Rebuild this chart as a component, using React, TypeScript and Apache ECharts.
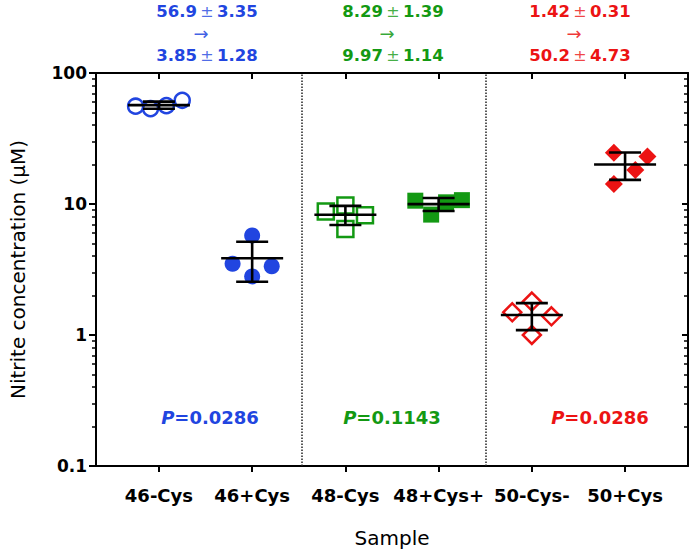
import React, { useEffect, useRef } from "react";
import * as echarts from "echarts";

// ---- data ----
const CATEGORIES = ["46-Cys", "46+Cys", "48-Cys", "48+Cys+", "50-Cys-", "50+Cys"];
const V46_MINUS = [55.8, 53.5, 56.3, 61.9];
const V46_PLUS = [5.75, 3.5, 3.35, 2.8];
const V48_MINUS = [8.75, 9.75, 8.2, 6.45];
const V48_PLUS = [10.6, 8.3, 10.3, 10.7];
const V50_MINUS = [1.49, 1.8, 1.39, 1.0];
const V50_PLUS = [24.6, 23.0, 18.2, 14.2];
// horizontal scatter (jitter) of points around each category, in category units
const J46_MINUS = [-0.25, -0.09, 0.08, 0.25];
const J46_PLUS = [0, -0.21, 0.21, 0];
const J48_MINUS = [-0.21, 0, 0.21, 0];
const J48_PLUS = [-0.25, -0.08, 0.08, 0.25];
const J50_MINUS = [-0.21, 0, 0.21, 0];
const J50_PLUS = [-0.12, 0.24, 0.11, -0.12];

const Y_MAJOR = [0.1, 1, 10, 100];
const Y_MAJOR_LABELS = ["0.1", "1", "10", "100"];
const Y_MINOR = [0.2, 0.3, 0.4, 0.5, 0.6, 0.7, 0.8, 0.9, 2, 3, 4, 5, 6, 7, 8, 9, 20, 30, 40, 50, 60, 70, 80, 90];
const X_TICKS = [1, 2, 3, 4, 5, 6];
const SEPARATORS = [2.53, 4.51];

const BEFORE_MEAN = ["56.9", "8.29", "1.42"];
const BEFORE_SD = ["3.35", "1.39", "0.31"];
const AFTER_MEAN = ["3.85", "9.97", "50.2"];
const AFTER_SD = ["1.28", "1.14", "4.73"];
const P_VALUES = ["0.0286", "0.1143", "0.0286"];

const BLUE = "#2145e0";
const GREEN = "#139913";
const RED = "#ec1313";
const GROUP_COLORS = [BLUE, GREEN, RED];
const FONT = '"DejaVu Sans", Verdana, sans-serif';

const mean = (a: number[]) => a.reduce((s, v) => s + v, 0) / a.length;
const sd = (a: number[]) => {
  const m = mean(a);
  return Math.sqrt(a.reduce((s, v) => s + (v - m) * (v - m), 0) / (a.length - 1));
};

const GROUPS = [
  { vals: V46_MINUS, jit: J46_MINUS, symbol: "circle", size: 15, filled: false, color: BLUE },
  { vals: V46_PLUS, jit: J46_PLUS, symbol: "circle", size: 16, filled: true, color: BLUE },
  { vals: V48_MINUS, jit: J48_MINUS, symbol: "rect", size: 16, filled: false, color: GREEN },
  { vals: V48_PLUS, jit: J48_PLUS, symbol: "rect", size: 16, filled: true, color: GREEN },
  { vals: V50_MINUS, jit: J50_MINUS, symbol: "diamond", size: 18, filled: false, color: RED },
  { vals: V50_PLUS, jit: J50_PLUS, symbol: "diamond", size: 18, filled: true, color: RED },
];

export default function App() {
  const ref = useRef<HTMLDivElement>(null);
  useEffect(() => {
    document.body.style.margin = "0";
    if (!ref.current) return;
    const chart = echarts.init(ref.current, null, { renderer: "svg" });

    const axisLine = { show: true, onZero: false, lineStyle: { color: "#000", width: 2 } };
    const scatterSeries = GROUPS.map((g, i) => ({
      type: "scatter",
      xAxisIndex: 0,
      yAxisIndex: 0,
      symbol: g.symbol,
      symbolSize: g.size,
      z: 3,
      itemStyle: g.filled
        ? { color: g.color, opacity: 1 }
        : { color: "transparent", borderColor: g.color, borderWidth: 2.5, opacity: 1 },
      data: g.vals.map((v, k) => [X_TICKS[i] + g.jit[k], v]),
      ...(i === 0
        ? {
            markLine: {
              silent: true,
              symbol: "none",
              label: { show: false },
              lineStyle: { color: "#222", type: "dotted", width: 1.5 },
              data: SEPARATORS.map((x) => ({ xAxis: x })),
            },
          }
        : {}),
    }));

    const errorData = GROUPS.map((g, i) => [X_TICKS[i], mean(g.vals), sd(g.vals)]);

    const graphics: any[] = [];
    const centers = [207, 393, 580];
    const pCenters = [210, 392, 600];
    GROUP_COLORS.forEach((c, i) => {
      const rich = {
        b: { fontWeight: "bold", fontSize: 16.5, fontFamily: FONT, fill: c },
        n: { fontWeight: "normal", fontSize: 16, fontFamily: FONT, fill: c, opacity: 0.8 },
      };
      graphics.push({
        type: "text",
        x: centers[i],
        y: 11,
        style: { text: `{b|${BEFORE_MEAN[i]}} {n|±} {b|${BEFORE_SD[i]}}`, rich, align: "center", verticalAlign: "middle" },
      });
      graphics.push({
        type: "text",
        x: centers[i] - 6,
        y: 33,
        style: { text: "→", fill: c, fontSize: 18, fontFamily: FONT, align: "center", verticalAlign: "middle", opacity: 0.85 },
      });
      graphics.push({
        type: "text",
        x: centers[i],
        y: 55,
        style: { text: `{b|${AFTER_MEAN[i]}} {n|±} {b|${AFTER_SD[i]}}`, rich, align: "center", verticalAlign: "middle" },
      });
      graphics.push({
        type: "text",
        x: pCenters[i],
        y: 417,
        style: {
          text: `{i|P}{b|=${P_VALUES[i]}}`,
          rich: {
            i: { fontWeight: "bold", fontStyle: "italic", fontSize: 18, fontFamily: FONT, fill: c },
            b: { fontWeight: "bold", fontSize: 18, fontFamily: FONT, fill: c },
          },
          align: "center",
          verticalAlign: "middle",
        },
      });
    });

    // minor ticks of the log axis are drawn on helper axes in log10 space
    const minorLog = Y_MINOR.map((v) => Math.log10(v));
    const helperAxis = (position: string, inside: boolean) => ({
      type: "value",
      min: -1,
      max: 2,
      position,
      axisLine: { show: false, onZero: false },
      splitLine: { show: false },
      axisTick: { show: true, inside, customValues: minorLog, length: 4, lineStyle: { color: "#000", width: 1.5 } },
      axisLabel: { show: false },
    });

    const option: any = {
      animation: false,
      backgroundColor: "#fff",
      grid: { left: 96, right: 3, top: 73, bottom: 84, containLabel: false },
      xAxis: [
        {
          type: "value",
          min: 0.325,
          max: 6.675,
          position: "bottom",
          axisLine,
          splitLine: { show: false },
          axisTick: { show: true, customValues: X_TICKS, length: 6, lineStyle: { color: "#000", width: 2 } },
          axisLabel: {
            show: true,
            customValues: X_TICKS,
            formatter: (v: number) => CATEGORIES[Math.round(v) - 1] ?? "",
            fontFamily: FONT,
            fontWeight: "bold",
            fontSize: 18,
            color: "#000",
            margin: 20,
          },
          name: "Sample",
          nameLocation: "middle",
          nameGap: 62,
          nameTextStyle: { fontFamily: FONT, fontSize: 20, color: "#000" },
        },
        {
          type: "value",
          min: 0.325,
          max: 6.675,
          position: "top",
          axisLine,
          splitLine: { show: false },
          axisTick: { show: true, inside: true, customValues: X_TICKS, length: 6, lineStyle: { color: "#000", width: 2 } },
          axisLabel: { show: false },
        },
      ],
      yAxis: [
        {
          type: "log",
          logBase: 10,
          min: 0.1,
          max: 100,
          position: "left",
          axisLine,
          splitLine: { show: false },
          axisTick: { show: true, length: 7, lineStyle: { color: "#000", width: 2 } },
          axisLabel: {
            show: true,
            formatter: (v: number) => Y_MAJOR_LABELS[Y_MAJOR.findIndex((t) => Math.abs(t - v) / t < 1e-6)] ?? String(v),
            fontFamily: FONT,
            fontWeight: "bold",
            fontSize: 17,
            color: "#000",
            margin: 9,
          },
          name: "Nitrite concentration (μM)",
          nameLocation: "middle",
          nameGap: 68,
          nameTextStyle: { fontFamily: FONT, fontSize: 20, color: "#000" },
        },
        helperAxis("left", false),
        {
          type: "log",
          logBase: 10,
          min: 0.1,
          max: 100,
          position: "right",
          axisLine,
          splitLine: { show: false },
          axisTick: { show: true, inside: true, length: 6, lineStyle: { color: "#000", width: 2 } },
          axisLabel: { show: false },
        },
        helperAxis("right", true),
      ],
      series: [
        ...scatterSeries,
        {
          type: "custom",
          xAxisIndex: 0,
          yAxisIndex: 0,
          z: 5,
          encode: { x: 0, y: 1 },
          data: errorData,
          renderItem: (_p: any, api: any) => {
            const x = api.value(0);
            const m = api.value(1);
            const s = api.value(2);
            const c = api.coord([x, m]);
            const hi = api.coord([x, m + s]);
            const lo = api.coord([x, m - s]);
            const style = { stroke: "#000", lineWidth: 2.6 };
            return {
              type: "group",
              children: [
                { type: "line", shape: { x1: c[0] - 31, y1: c[1], x2: c[0] + 31, y2: c[1] }, style },
                { type: "line", shape: { x1: hi[0], y1: hi[1], x2: lo[0], y2: lo[1] }, style },
                { type: "line", shape: { x1: hi[0] - 16, y1: hi[1], x2: hi[0] + 16, y2: hi[1] }, style },
                { type: "line", shape: { x1: lo[0] - 16, y1: lo[1], x2: lo[0] + 16, y2: lo[1] }, style },
              ],
            };
          },
        },
      ],
      graphic: graphics,
    };

    chart.setOption(option);
    return () => chart.dispose();
  }, []);

  return <div ref={ref} style={{ width: 691, height: 553 }} />;
}
